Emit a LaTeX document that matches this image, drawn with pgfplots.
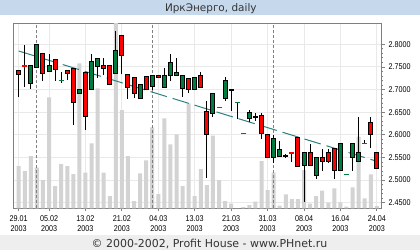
\documentclass[border=0pt]{standalone}
\usepackage{fontspec}
\usepackage{pgfplots}
\usepackage{pgfplotstable}
\pgfplotsset{compat=1.18}
\newfontfamily\dejavu{DejaVu Sans}
\newfontfamily\tickfont[FakeStretch=0.86]{Liberation Sans}
\definecolor{cred}{RGB}{255,0,0}
\definecolor{cgreen}{RGB}{0,125,62}
\definecolor{cvol}{RGB}{211,211,211}
\definecolor{cgrid}{RGB}{233,233,233}
\definecolor{cframe}{RGB}{128,128,128}
\definecolor{ctrend}{RGB}{46,128,128}
\definecolor{ctitlebg}{RGB}{198,216,236}
\definecolor{cfootbg}{RGB}{238,238,238}
\definecolor{ctext}{RGB}{51,51,51}
% t: 0 red body, 1 green body, 2 red dash, 3 green dash, 4 black dash
\pgfplotstableread{
i o h l c v t
0 2.7426 2.7426 2.6842 2.7337 42.3 0
1 2.7527 2.7985 2.7050 2.7527 37.3 2
2 2.7123 2.7521 2.7006 2.7521 52.3 1
3 2.7492 2.7985 2.7492 2.7985 40.6 1
4 2.7801 2.7801 2.7196 2.7359 28.3 0
5 2.7403 2.7786 2.7403 2.7521 111.0 1
6 2.7669 2.7669 2.7196 2.7448 22.3 0
7 2.7205 2.7381 2.7138 2.7205 44.3 3
8 2.7410 2.7410 2.7205 2.7359 42.3 0
9 2.7470 2.7470 2.6224 2.6719 34.3 0
10 2.6917 2.7012 2.6917 2.7012 145.0 1
11 2.7381 2.7381 2.6106 2.6400 35.6 0
12 2.7006 2.7786 2.7006 2.7609 65.0 1
13 2.7505 2.7691 2.7260 2.7691 120.0 1
14 2.7521 2.7691 2.7322 2.7470 35.6 0
15 2.7521 2.7521 2.7116 2.7116 12.3 0
16 2.7359 2.8294 2.7359 2.7874 190.0 1
17 2.8205 2.8205 2.7339 2.7753 98.3 0
18 2.7339 2.7339 2.6798 2.7050 52.3 0
19 2.7271 2.7271 2.6820 2.6917 7.3 0
20 2.6798 2.7116 2.6798 2.7116 35.0 1
21 2.7293 2.7293 2.7006 2.7006 48.0 0
22 2.7063 2.7315 2.6990 2.7315 81.0 1
23 2.7315 2.7315 2.7271 2.7271 14.3 0
24 2.7050 2.7470 2.7050 2.7315 90.0 1
25 2.7315 2.7786 2.7196 2.7602 64.0 1
26 2.7315 2.7697 2.7315 2.7366 74.0 1
27 2.7019 2.7315 2.6829 2.7315 22.3 1
28 2.7255 2.7255 2.6931 2.7006 105.0 0
29 2.7006 2.7271 2.7006 2.7271 12.3 1
30 2.7311 2.7388 2.7046 2.7046 39.3 0
31 2.6526 2.6747 2.5035 2.6011 23.3 0
32 2.6475 2.6917 2.6400 2.6917 72.6 1
33 2.6608 2.6608 2.6608 2.6608 28.3 3
34 2.6802 2.7271 2.6747 2.7196 7.3 1
35 2.6990 2.6990 2.6533 2.6990 4.6 4
36 2.6719 2.6719 2.6350 2.6719 0.0 3
37 2.6034 2.6034 2.6034 2.6034 1.3 3
38 2.6365 2.6548 2.6290 2.6498 3.3 1
39 2.6400 2.6475 2.6305 2.6400 6.6 4
40 2.6416 2.6475 2.5901 2.6034 47.3 0
41 2.6011 2.6011 2.5503 2.5503 18.3 0
42 2.5503 2.5996 2.5371 2.5908 35.6 1
43 2.5517 2.5870 2.5517 2.5665 2.6 1
44 2.5539 2.5583 2.5494 2.5539 14.0 4
45 2.5605 2.5605 2.5406 2.5605 9.3 2
46 2.5936 2.5936 2.5300 2.5300 9.3 0
47 2.5315 2.5614 2.4522 2.5614 38.3 1
48 2.5614 2.5790 2.5311 2.5311 4.6 0
49 2.5101 2.5499 2.5017 2.5499 12.3 1
50 2.5503 2.5687 2.5201 2.5415 17.6 0
51 2.5614 2.5687 2.5371 2.5406 5.6 0
52 2.5702 2.5702 2.5017 2.5216 20.0 0
53 2.5216 2.5813 2.5216 2.5813 6.0 1
54 2.5128 2.5128 2.5128 2.5128 1.6 3
55 2.5503 2.5813 2.5201 2.5813 21.0 1
56 2.5406 2.6394 2.5406 2.5614 71.6 1
57 2.5813 2.5886 2.5813 2.5813 10.0 2
58 2.6277 2.6394 2.5702 2.6011 34.0 0
59 2.5614 2.5614 2.5260 2.5260 2.3 0
}\candles
\pgfplotsset{
  candle/.style={draw=none, mark=none, no markers, forget plot,
    error bars/.cd, y dir=both, y explicit, error mark=none},
}
\begin{document}
\begin{tikzpicture}
\begin{axis}[scale only axis, width=368.4bp, height=185bp,
  xmin=-0.89, xmax=59.8, ymin=2.4376, ymax=2.8464,
  axis line style={draw=cframe, line width=1bp},
  grid=major, major grid style={draw=cgrid, line width=1bp},
  xtick={0,5,11,17,23,29,35,41,47,53,59},
  xticklabels={{29.01\\2003},{05.02\\2003},{13.02\\2003},{21.02\\2003},{04.03\\2003},{13.03\\2003},{21.03\\2003},{31.03\\2003},{08.04\\2003},{16.04\\2003},{24.04\\2003}},
  ytick={2.45,2.50,2.55,2.60,2.65,2.70,2.75,2.80},
  minor y tick num=4,
  xtick pos=left, ytick pos=right, tick align=outside,
  major tick length=3bp, minor tick length=1.5bp,
  tick style={draw=cframe, line width=0.8bp},
  xticklabel style={align=center, inner sep=0pt, yshift=-4.5bp, font=\tickfont\fontsize{8.4}{10}\selectfont},
  yticklabel style={anchor=west, inner sep=0pt, xshift=3.6bp, font=\tickfont\fontsize{8.4}{10}\selectfont,
    /pgf/number format/fixed, /pgf/number format/fixed zerofill,
    /pgf/number format/precision=4, /pgf/number format/assume math mode=true},
]
\coordinate (SW) at (rel axis cs:0,0);
% volume (bar height in pixels of the original chart, 1 px = 0.0022095 price units)
\addplot[ybar, bar width=4bp, fill=cvol, draw=none]
  table[x=i, y expr=2.4376+0.0022095*\thisrow{v}] {\candles};
% month separators
\addplot[ycomb, mark=none, draw=cframe, line width=1bp, dash pattern=on 3bp off 2bp]
  coordinates {(3,2.8464) (22,2.8464) (42,2.8464)};
% trend line
\addplot[ctrend, mark=none, line width=1bp, dash pattern=on 17bp off 6bp] coordinates {(0,2.7852) (59,2.5415)};
% wicks
\addplot[candle, error bar style={draw=black, line width=1bp}]
  table[x=i, y expr=(\thisrow{h}+\thisrow{l})/2, y error expr=(\thisrow{h}-\thisrow{l})/2] {\candles};
% body outlines
\addplot[restrict expr to domain={\thisrow{t}}{0:1}, candle, error bar style={draw=black, line width=5bp}]
  table[x=i, y expr=(\thisrow{o}+\thisrow{c})/2, y error expr=abs(\thisrow{o}-\thisrow{c})/2+0.0011] {\candles};
\addplot[restrict expr to domain={\thisrow{t}}{0:0}, candle, error bar style={draw=cred, line width=3bp}]
  table[x=i, y expr=(\thisrow{o}+\thisrow{c})/2, y error expr=abs(\thisrow{o}-\thisrow{c})/2-0.0011] {\candles};
\addplot[restrict expr to domain={\thisrow{t}}{1:1}, candle, error bar style={draw=cgreen, line width=3bp}]
  table[x=i, y expr=(\thisrow{o}+\thisrow{c})/2, y error expr=abs(\thisrow{o}-\thisrow{c})/2-0.0011] {\candles};
% dashes (open = close)
\addplot[restrict expr to domain={\thisrow{t}}{2:2}, candle, error bar style={draw=cred, line width=5bp}]
  table[x=i, y=o, y error expr=0.0012] {\candles};
\addplot[restrict expr to domain={\thisrow{t}}{3:3}, candle, error bar style={draw=cgreen, line width=5bp}]
  table[x=i, y=o, y error expr=0.0012] {\candles};
\addplot[restrict expr to domain={\thisrow{t}}{4:4}, candle, error bar style={draw=black, line width=5bp}]
  table[x=i, y=o, y error expr=0.0020] {\candles};
\end{axis}
\fill[ctitlebg] ([shift={(-13.3bp,193.6bp)}]SW) rectangle ++(420bp,14.7bp);
\node[anchor=base, inner sep=0pt, text=ctext, font=\dejavu\fontsize{10.5}{12}\selectfont]
  at ([shift={(197.5bp,196.6bp)}]SW) {ИркЭнерго, daily};
\fill[cfootbg] ([shift={(-13.3bp,-41.7bp)}]SW) rectangle ++(420bp,15bp);
\node[anchor=base, inner sep=0pt, text=ctext, font=\dejavu\fontsize{11}{13}\selectfont]
  at ([shift={(196.2bp,-38.7bp)}]SW) {© 2000-2002, Profit House - www.PHnet.ru};
\pgfresetboundingbox
\path[use as bounding box] ([shift={(-13.3bp,-41.7bp)}]SW) rectangle ++(420bp,250bp);
\end{tikzpicture}
\end{document}
